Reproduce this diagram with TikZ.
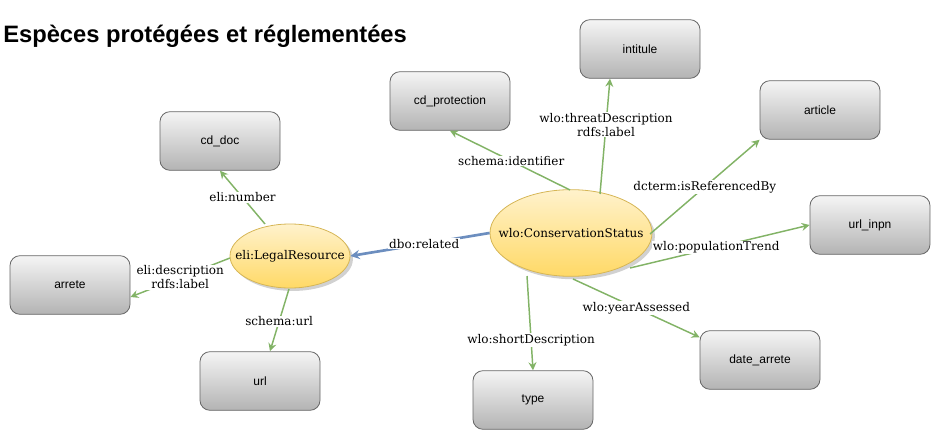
\documentclass[tikz,border=0pt]{standalone}
\usepackage{fontspec}
\setmainfont{DejaVu Serif}
\newfontfamily\boxfont{Liberation Sans}
\usetikzlibrary{arrows.meta,shapes.geometric,shadows}
\definecolor{edgegreen}{HTML}{82B366}
\definecolor{edgeblue}{HTML}{6C8EBF}
\definecolor{ellborder}{HTML}{D6B656}
\definecolor{ellTop}{HTML}{FFF2CC}
\definecolor{ellBot}{HTML}{FFD966}
\definecolor{boxborder}{HTML}{666666}
\definecolor{boxTop}{HTML}{F5F5F5}
\definecolor{boxBot}{HTML}{B3B3B3}
\tikzset{
  valbox/.style={draw=boxborder, rounded corners=7.5pt, top color=boxTop, bottom color=boxBot,
    minimum width=90pt, minimum height=44pt, font=\boxfont\fontsize{9}{10}\selectfont, line width=0.6pt},
  classnode/.style={ellipse, draw=ellborder, top color=ellTop, bottom color=ellBot, line width=0.6pt,
    inner sep=0pt,
    drop shadow={shadow xshift=2.2pt, shadow yshift=-2.2pt, fill=black!30, opacity=0.6}},
  classtext/.style={inner sep=0pt, font=\fontsize{9}{11}\selectfont},
  rel/.style={draw=edgegreen, line width=1.1pt, -{Stealth[length=6pt,width=6pt,inset=2pt]}},
  relblue/.style={draw=edgeblue, line width=2pt, -{Stealth[length=7pt,width=7pt,inset=2.5pt]}},
  lbl/.style={fill=white, inner sep=0.6pt, font=\fontsize{9}{10.5}\selectfont, align=center}
}
\begin{document}
\begin{tikzpicture}[x=0.75pt,y=-0.75pt]
\useasboundingbox (0,0) rectangle (931,431);
\node[anchor=base west, inner sep=0, font=\boxfont\bfseries\fontsize{17.8}{19}\selectfont] (title) at (3,43) {Espèces protégées et réglementées};

\node[valbox] (cddoc) at (220,141) {cd\_doc};
\node[valbox] (arrete) at (70,285) {arrete};
\node[valbox] (url) at (260,381) {url};
\node[valbox] (cdprot) at (450,101) {cd\_protection};
\node[valbox] (intitule) at (640,49) {intitule};
\node[valbox] (article) at (820,110) {article};
\node[valbox] (urlinpn) at (870,225) {url\_inpn};
\node[valbox] (datearr) at (760,360) {date\_arrete};
\node[valbox] (type) at (533,400) {type};

\node[classnode, minimum width=90pt, minimum height=48pt] (lr) at (290,256) {};
\node[classtext] (lrtext) at (lr) {eli:LegalResource};
\node[classnode, minimum width=121.5pt, minimum height=65pt] (cs) at (571,233) {};
\node[classtext] (cstext) at (cs) {wlo:ConservationStatus};

\coordinate (lrN) at (265,224);
\coordinate (lrW) at (230,258);
\coordinate (lrS) at (289,289);

\draw[relblue] (cs.west) -- (lr.east) node[lbl, pos=0.47] {dbo:related};
\draw[rel] (lrN) -- (cddoc.south) node[lbl, pos=0.5] {eli:number};
\draw[rel] (lrW) -- ([yshift=-9pt]arrete.east) node[lbl, pos=0.5] {eli:description\\rdfs:label};
\draw[rel] (lrS) -- ([xshift=7.5pt]url.north) node[lbl, pos=0.52] {schema:url};

\coordinate (c1) at (570,190);
\coordinate (c2) at (600,194);
\coordinate (c3) at (650,234);
\coordinate (c4) at (630,268);
\coordinate (c5) at (573,279);
\coordinate (c6) at (527,276);
\draw[rel] (c1) -- (cdprot.south) node[lbl, pos=0.49] {schema:identifier};
\draw[rel] (c2) -- ([xshift=-22.5pt]intitule.south) node[lbl, pos=0.6] {wlo:threatDescription\\rdfs:label};
\draw[rel] (c3) -- (article.south west) node[lbl, pos=0.5] {dcterm:isReferencedBy};
\draw[rel] (c4) -- (urlinpn.west) node[lbl, pos=0.48] {wlo:populationTrend};
\draw[rel] (c5) -- ([yshift=-5.25pt]datearr.north west) node[lbl, pos=0.5] {wlo:yearAssessed};
\draw[rel] (c6) -- (type.north) node[lbl, pos=0.68] {wlo:shortDescription};
\end{tikzpicture}
\end{document}
